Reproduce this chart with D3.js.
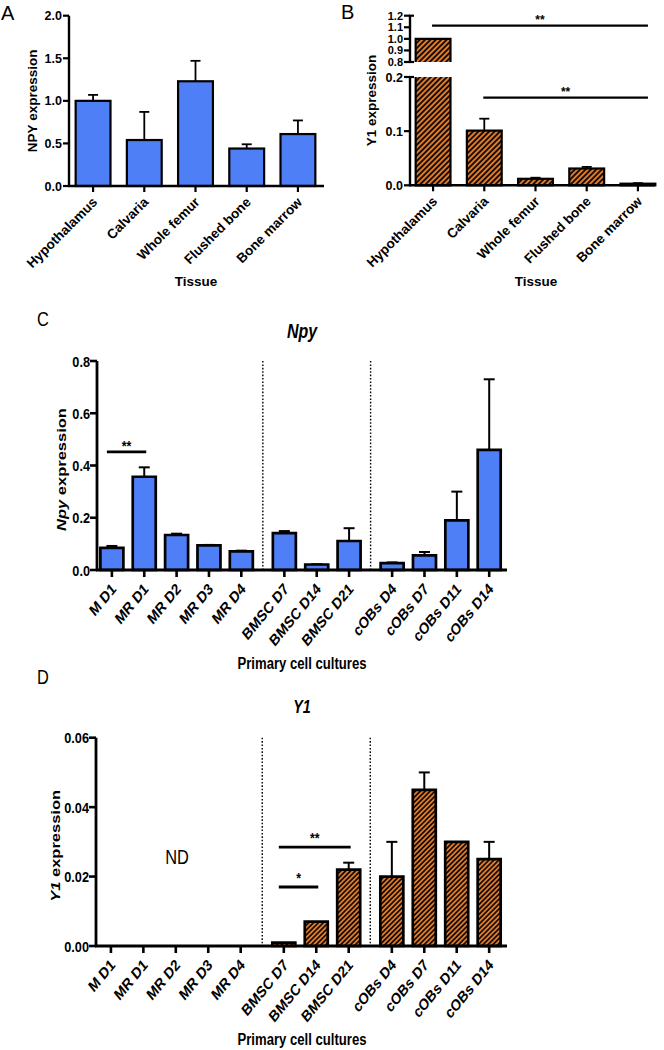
<!DOCTYPE html>
<html><head><meta charset="utf-8">
<script src="https://cdn.jsdelivr.net/npm/d3@7"></script>
<style>body{margin:0;background:#fff}svg{display:block}</style>
</head><body><svg id="c" width="664" height="1050"></svg>
<script>
// ---------- DATA ----------
const tissues = ["Hypothalamus", "Calvaria", "Whole femur", "Flushed bone", "Bone marrow"];
const npyTissue = [1.0, 0.54, 1.23, 0.44, 0.61];
const npyTissueErr = [0.07, 0.33, 0.24, 0.05, 0.16];
const y1Tissue = [1.0, 0.101, 0.012, 0.031, 0.003];
const y1TissueErr = [0, 0.022, 0.002, 0.003, 0.001];
const ticksA = [0, 0.5, 1.0, 1.5, 2.0];
const ticksBUpper = [0.8, 0.9, 1.0, 1.1, 1.2];
const ticksBLower = [0, 0.1, 0.2];
const sigB = [
  {from: "Hypothalamus", to: "Bone marrow", value: 1.115, label: "**"},
  {from: "Calvaria", to: "Bone marrow", value: 0.162, label: "**"}
];

const cultures = ["M D1", "MR D1", "MR D2", "MR D3", "MR D4", "BMSC D7", "BMSC D14", "BMSC D21", "cOBs D4", "cOBs D7", "cOBs D11", "cOBs D14"];
const cultureGroup = [0, 0, 0, 0, 0, 1, 1, 1, 2, 2, 2, 2];
const npyCulture = [0.085, 0.357, 0.134, 0.094, 0.071, 0.141, 0.021, 0.111, 0.026, 0.056, 0.19, 0.46];
const npyCultureErr = [0.007, 0.036, 0.005, 0.002, 0.003, 0.008, 0.001, 0.049, 0.003, 0.013, 0.11, 0.27];
const y1Culture = [null, null, null, null, null, 0.001, 0.007, 0.022, 0.020, 0.045, 0.030, 0.025];
const y1CultureErr = [null, null, null, null, null, 0, 0, 0.002, 0.010, 0.005, 0, 0.005];
const ticksC = [0, 0.2, 0.4, 0.6, 0.8];
const ticksD = [0, 0.02, 0.04, 0.06];
const sigC = [{from: "M D1", to: "MR D1", value: 0.452, label: "**"}];
const sigD = [
  {from: "BMSC D7", to: "BMSC D21", value: 0.0285, label: "**"},
  {from: "BMSC D7", to: "BMSC D14", value: 0.017, label: "*"}
];

// ---------- STYLE ----------
const svg = d3.select("#c");
const BLUE = "#4f7ff7", ORANGE = "#e07b2b";
const F = "'Liberation Sans', Arial, Helvetica, sans-serif";
const SX = 0.82; // horizontal compression of panels C & D
const defs = svg.append("defs");
function hatch(id, angle) {
  const p = defs.append("pattern").attr("id", id).attr("patternUnits", "userSpaceOnUse")
    .attr("width", 3.8).attr("height", 3.8).attr("patternTransform", `rotate(${angle})`);
  p.append("rect").attr("width", 3.8).attr("height", 3.8).attr("fill", ORANGE);
  p.append("line").attr("x1", 1.9).attr("x2", 1.9).attr("y1", -1).attr("y2", 5)
    .attr("stroke", "#000").attr("stroke-width", 1.7);
}
hatch("hatchB", 45);
hatch("hatchD", 50.6);

function line(g, x1, y1, x2, y2, w) {
  return g.append("line").attr("x1", x1).attr("y1", y1).attr("x2", x2).attr("y2", y2)
    .attr("stroke", "#000").attr("stroke-width", w).attr("vector-effect", "non-scaling-stroke");
}

// ---------- PANEL A ----------
(function () {
  const g = svg.append("g").attr("font-family", F);
  const x = d3.scaleBand().domain(tissues).range([69, 322]).paddingInner(0.32).paddingOuter(0.13);
  const y = d3.scaleLinear().domain([0, 2]).range([186, 15.7]);
  g.append("text").attr("x", 1).attr("y", 20).attr("font-size", 20).text("A");
  tissues.forEach((t, i) => {
    const v = npyTissue[i], e = npyTissueErr[i], cx = x(t) + x.bandwidth() / 2;
    line(g, cx, y(v), cx, y(v + e), 1.8);
    line(g, cx - 5, y(v + e), cx + 5, y(v + e), 1.8);
    g.append("rect").attr("x", x(t)).attr("y", y(v)).attr("width", x.bandwidth()).attr("height", y(0) - y(v))
      .attr("fill", BLUE).attr("stroke", "#000").attr("stroke-width", 2.2);
    line(g, cx, y(0), cx, y(0) + 6, 2.2);
    g.append("text").attr("transform", `translate(${cx + 5},${y(0) + 17}) rotate(-45)`)
      .attr("text-anchor", "end").attr("font-size", 13.5).attr("font-weight", "bold").text(t);
  });
  line(g, 69, y(2), 69, y(0) + 1, 2.4);
  line(g, 68, y(0), 324, y(0), 2.4);
  ticksA.forEach(tk => {
    line(g, 63, y(tk), 69, y(tk), 2.2);
    g.append("text").attr("x", 62).attr("y", y(tk)).attr("dy", "0.36em").attr("text-anchor", "end")
      .attr("font-size", 12.5).attr("font-weight", "bold").text(d3.format(".1f")(tk));
  });
  g.append("text").attr("transform", `translate(37,${(y(0) + y(2)) / 2}) rotate(-90)`).attr("text-anchor", "middle")
    .attr("font-size", 13.5).attr("font-weight", "bold").text("NPY expression");
  g.append("text").attr("x", 196).attr("y", 286).attr("text-anchor", "middle")
    .attr("font-size", 13.5).attr("font-weight", "bold").text("Tissue");
})();

// ---------- PANEL B ----------
(function () {
  const g = svg.append("g").attr("font-family", F);
  const x = d3.scaleBand().domain(tissues).range([409, 662]).paddingInner(0.32).paddingOuter(0.13);
  const yL = d3.scaleLinear().domain([0, 0.2]).range([185.3, 77]);
  const yU = d3.scaleLinear().domain([0.8, 1.2]).range([62, 15.7]);
  const ax = 410;
  g.append("text").attr("x", 341).attr("y", 19).attr("font-size", 20).text("B");
  const bw = x.bandwidth();
  tissues.forEach((t, i) => {
    const v = y1Tissue[i], e = y1TissueErr[i], x0 = x(t), cx = x0 + bw / 2;
    if (v > 0.2) {
      g.append("rect").attr("x", x0).attr("y", yL(0.2)).attr("width", bw).attr("height", yL(0) - yL(0.2)).attr("fill", "url(#hatchB)");
      g.append("path").attr("d", `M${x0},${yL(0.2)}V${yL(0)}H${x0 + bw}V${yL(0.2)}`).attr("fill", "none").attr("stroke", "#000").attr("stroke-width", 2.2);
      g.append("rect").attr("x", x0).attr("y", yU(v)).attr("width", bw).attr("height", yU(0.8) - yU(v)).attr("fill", "url(#hatchB)");
      g.append("path").attr("d", `M${x0},${yU(0.8)}V${yU(v)}H${x0 + bw}V${yU(0.8)}`).attr("fill", "none").attr("stroke", "#000").attr("stroke-width", 2.2);
    } else {
      if (e > 0) {
        line(g, cx, yL(v), cx, yL(v + e), 1.8);
        line(g, cx - 5, yL(v + e), cx + 5, yL(v + e), 1.8);
      }
      g.append("rect").attr("x", x0).attr("y", yL(v)).attr("width", bw).attr("height", Math.max(yL(0) - yL(v), 0.5))
        .attr("fill", "url(#hatchB)").attr("stroke", "#000").attr("stroke-width", 2.2);
    }
    line(g, cx, yL(0), cx, yL(0) + 6, 2.2);
    g.append("text").attr("transform", `translate(${cx + 5},${yL(0) + 17}) rotate(-45)`)
      .attr("text-anchor", "end").attr("font-size", 13.5).attr("font-weight", "bold").text(t);
  });
  // axes
  line(g, ax, yU(1.2), ax, yU(0.8), 2.4);
  line(g, ax - 1, yU(1.2), ax + 4, yU(1.2), 2.2);
  line(g, ax - 1, yU(0.8), ax + 4, yU(0.8), 2.2);
  line(g, ax, yL(0.2), ax, yL(0) + 1, 2.4);
  line(g, ax - 1, yL(0.2), ax + 4, yL(0.2), 2.2);
  line(g, ax - 1, yL(0), 655, yL(0), 2.4);
  const tk = (s, v, fs) => {
    line(g, ax - 6, s(v), ax, s(v), 2.2);
    g.append("text").attr("x", 403).attr("y", s(v)).attr("dy", "0.36em").attr("text-anchor", "end")
      .attr("font-size", fs).attr("font-weight", "bold").text(d3.format(".1f")(v));
  };
  ticksBUpper.forEach(v => tk(yU, v, 11));
  ticksBLower.forEach(v => tk(yL, v, 12.5));
  sigB.forEach(s => {
    const ys = s.value > 0.2 ? yU(s.value) : yL(s.value);
    const x1 = x(s.from) + bw / 2 - 1, x2 = x(s.to) + bw / 2 + 10;
    line(g, x1, ys, x2, ys, 2.2);
    g.append("text").attr("x", (x1 + x2) / 2).attr("y", ys - 2).attr("text-anchor", "middle")
      .attr("font-size", 12).attr("font-weight", "bold").text(s.label);
  });
  g.append("text").attr("transform", `translate(376,${(yU(1.2) + yL(0)) / 2}) rotate(-90)`).attr("text-anchor", "middle")
    .attr("font-size", 13.5).attr("font-weight", "bold").text("Y1 expression");
  g.append("text").attr("x", 536).attr("y", 286).attr("text-anchor", "middle")
    .attr("font-size", 13.5).attr("font-weight", "bold").text("Tissue");
})();

// ---------- PANELS C & D ----------
function culturePanel(o) {
  const X = v => v / SX;
  const g = svg.append("g").attr("font-family", F).attr("transform", `scale(${SX},1)`);
  const xs = d3.scaleLinear().domain([-0.46, 12.21]).range([X(o.ax), X(507)]);
  const pos = i => xs(i + cultureGroup[i] * 0.33);
  const y = d3.scaleLinear().domain(o.domain).range([o.y0, o.yTop]);
  const bw = X(23);
  g.append("text").attr("x", X(37)).attr("y", o.letterY).attr("font-size", 20).text(o.letter);
  g.append("text").attr("x", X(302)).attr("y", o.titleY).attr("text-anchor", "middle")
    .attr("font-size", o.titleSize).attr("font-weight", "bold").attr("font-style", "italic").text(o.title);
  // group separators
  for (let i = 1; i < cultures.length; i++) {
    if (cultureGroup[i] !== cultureGroup[i - 1]) {
      const sx = (pos(i) + pos(i - 1)) / 2;
      line(g, sx, y(o.domain[1]), sx, o.y0, 1.4).attr("stroke-dasharray", "1.6,1.8");
    }
  }
  cultures.forEach((c, i) => {
    const v = o.values[i], e = o.errs[i], cx = pos(i);
    if (v != null) {
      if (e > 0) {
        line(g, cx, y(v), cx, y(v + e), 2);
        line(g, cx - X(5.5), y(v + e), cx + X(5.5), y(v + e), 2);
      }
      g.append("rect").attr("x", cx - bw / 2).attr("y", y(v)).attr("width", bw).attr("height", Math.max(y(0) - y(v), 0.5))
        .attr("fill", o.fill).attr("stroke", "#000").attr("stroke-width", 2.7).attr("vector-effect", "non-scaling-stroke");
    }
    line(g, cx, o.y0, cx, o.y0 + 7, 2.6);
    g.append("text").attr("transform", `translate(${cx + X(5)},${o.y0 + 20}) rotate(-45)`)
      .attr("text-anchor", "end").attr("font-size", 16).attr("font-weight", "bold").text(c);
  });
  line(g, X(o.ax), y(o.domain[1]), X(o.ax), o.y0 + 1, 2.8);
  line(g, X(o.ax - 1), o.y0, X(507), o.y0, 2.8);
  o.ticks.forEach(t => {
    line(g, X(o.ax - 7), y(t), X(o.ax), y(t), 2.6);
    g.append("text").attr("x", X(o.ax - 7)).attr("y", y(t)).attr("dy", "0.36em").attr("text-anchor", "end")
      .attr("font-size", 15.5).attr("font-weight", "bold").text(d3.format(o.fmt)(t));
  });
  o.sig.forEach(s => {
    const i1 = cultures.indexOf(s.from), i2 = cultures.indexOf(s.to);
    const x1 = pos(i1) - X(5), x2 = pos(i2) + X(2);
    line(g, x1, y(s.value), x2, y(s.value), 2.8);
    g.append("text").attr("x", (x1 + x2) / 2).attr("y", y(s.value) - o.sigGap).attr("text-anchor", "middle")
      .attr("font-size", 15).attr("font-weight", "bold").text(s.label);
  });
  if (o.nd) g.append("text").attr("x", X(177)).attr("y", 864).attr("text-anchor", "middle").attr("font-size", 20).text(o.nd);
  const yl = g.append("text").attr("transform", `translate(${X(o.ylx)},${(o.y0 + y(o.domain[1])) / 2 + 4}) rotate(-90)`)
    .attr("text-anchor", "middle").attr("font-size", 16.5).attr("font-weight", "bold");
  yl.append("tspan").attr("font-style", "italic").text(o.ylabelItalic);
  yl.append("tspan").text(" expression");
  g.append("text").attr("x", X(302)).attr("y", o.xTitleY).attr("text-anchor", "middle")
    .attr("font-size", 16).attr("font-weight", "bold").text("Primary cell cultures");
}

culturePanel({values: npyCulture, errs: npyCultureErr, domain: [0, 0.8], ticks: ticksC, fmt: ".1f",
  ax: 97, y0: 570, yTop: 361, fill: BLUE, title: "Npy", titleSize: 19.5, titleY: 338, letter: "C", letterY: 326,
  sig: sigC, sigGap: 1, ylx: 66, ylabelItalic: "Npy", xTitleY: 669});
culturePanel({values: y1Culture, errs: y1CultureErr, domain: [0, 0.06], ticks: ticksD, fmt: ".2f",
  ax: 96, y0: 946, yTop: 737.7, fill: "url(#hatchD)", title: "Y1", titleSize: 17.5, titleY: 713, letter: "D", letterY: 684,
  sig: sigD, sigGap: 4, ylx: 60, ylabelItalic: "Y1", xTitleY: 1045, nd: "ND"});
</script></body></html>
